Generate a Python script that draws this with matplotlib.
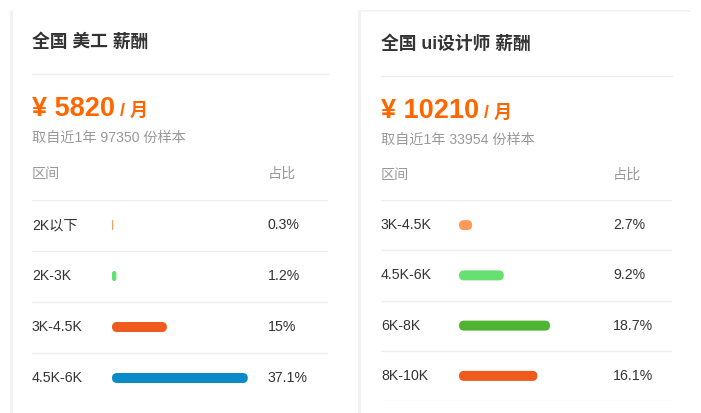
import matplotlib
matplotlib.use("Agg")
import matplotlib.pyplot as plt
from matplotlib.patches import FancyBboxPatch
from matplotlib.transforms import blended_transform_factory

plt.rcParams['font.family'] = ['Liberation Sans', 'Noto Sans CJK SC', 'DejaVu Sans']

# data for the two salary cards
left_title = "全国 美工 薪酬"
left_salary = 5820
left_samples = 97350
left_ranges = ["2K以下", "2K-3K", "3K-4.5K", "4.5K-6K"]
left_pcts = [0.3, 1.2, 15, 37.1]

right_title = "全国 ui设计师 薪酬"
right_salary = 10210
right_samples = 33954
right_ranges = ["3K-4.5K", "4.5K-6K", "6K-8K", "8K-10K"]
right_pcts = [2.7, 9.2, 18.7, 16.1]

# styles
left_colors = ["#ff9a52", "#66e070", "#ef5a1d", "#0a8bc8"]
right_colors = ["#ff9a5a", "#66e070", "#4fb434", "#ef5a1d"]
ORANGE = "#ff6600"
DARK = "#333333"
GRAY = "#999999"
LINE = "#eeeeee"
BODY = 10.2

W, H = 701, 413
fig = plt.figure(figsize=(W / 100, H / 100), dpi=100)
fig.patch.set_facecolor("white")

# background axes in pixel coords for layout
bg = fig.add_axes([0, 0, 1, 1])
bg.set_xlim(0, W)
bg.set_ylim(H, 0)
bg.axis("off")

# card borders
bg.plot([11, 11], [10, H], color="#f2f2f2", lw=2.2, solid_capstyle="butt")
bg.plot([358.5, 358.5], [10, H], color="#f2f2f2", lw=2.2, solid_capstyle="butt")
bg.plot([358, 691], [10.5, 10.5], color="#f2f2f2", lw=1.2, solid_capstyle="butt")


def draw_card(title, salary, samples, ranges, pcts, colors, lay):
    x0, x1 = lay["x0"], lay["x1"]
    bg.text(x0, lay["title_y"], title, fontsize=12.8, fontweight="bold",
            color=DARK, va="center", ha="left")
    bg.plot([x0, x1], [lay["sep_y"], lay["sep_y"]], color=LINE, lw=1)

    t1 = bg.text(x0, lay["price_y"], "¥ %d" % salary, fontsize=19.5,
                 fontweight="bold", color=ORANGE, va="baseline", ha="left")
    fig.canvas.draw()
    bb = t1.get_window_extent()
    x_end = bg.transData.inverted().transform((bb.x1, bb.y0))[0]
    bg.text(x_end + 5, lay["price_y"], "/ 月", fontsize=13, fontweight="bold",
            color=ORANGE, va="baseline", ha="left")

    bg.text(x0, lay["sub_y"], "取自近1年 %d 份样本" % samples, fontsize=BODY,
            color=GRAY, va="center", ha="left")
    bg.text(x0, lay["head_y"], "区间", fontsize=BODY, color=GRAY, va="center", ha="left")
    bg.text(lay["pct_x"], lay["head_y"], "占比", fontsize=BODY, color=GRAY,
            va="center", ha="left")

    # bar axes: x in percent, y in row index
    top, bottom = lay["rows_top"], lay["rows_bottom"]
    ax = fig.add_axes([x0 / W, 1 - bottom / H, (x1 - x0) / W, (bottom - top) / H])
    ppp = lay["ppp"]
    ax.set_xlim((x0 - lay["bar_x"]) / ppp, (x1 - lay["bar_x"]) / ppp)
    n = len(pcts)
    ax.set_ylim(n - 0.5, -0.5)
    ax.axis("off")
    ax.patch.set_alpha(0)

    sy = (bottom - top) / n  # px per row
    bar_h = 10 / sy
    for i in range(n + 1):
        if i == n and not lay["bottom_line"]:
            continue
        ax.axhline(i - 0.5, color=LINE, lw=1)

    tr = blended_transform_factory(bg.transData, ax.transData)
    for i, (lab, v, c) in enumerate(zip(ranges, pcts, colors)):
        r = min(5 / ppp, v / 2)
        patch = FancyBboxPatch((0, i - bar_h / 2), v, bar_h,
                               boxstyle="round,pad=0,rounding_size=%f" % r,
                               mutation_aspect=ppp / sy,
                               facecolor=c, edgecolor="none")
        ax.add_patch(patch)
        bg.text(x0, i, lab, transform=tr, fontsize=BODY, color=DARK,
                va="center", ha="left")
        bg.text(lay["pct_x"], i, "%g%%" % v, transform=tr, fontsize=BODY,
                color=DARK, va="center", ha="left")


left_layout = dict(x0=32, x1=328, bar_x=112, pct_x=268, ppp=3.66,
                   title_y=42, sep_y=74, price_y=116, sub_y=137.5, head_y=174,
                   rows_top=199.5, rows_bottom=403.5, bottom_line=False)
right_layout = dict(x0=381, x1=672, bar_x=459, pct_x=613, ppp=4.87,
                    title_y=44, sep_y=76, price_y=118, sub_y=140, head_y=175,
                    rows_top=200, rows_bottom=401, bottom_line=True)

draw_card(left_title, left_salary, left_samples, left_ranges, left_pcts,
          left_colors, left_layout)
draw_card(right_title, right_salary, right_samples, right_ranges, right_pcts,
          right_colors, right_layout)

fig.savefig("out.png", dpi=100, facecolor="white")
